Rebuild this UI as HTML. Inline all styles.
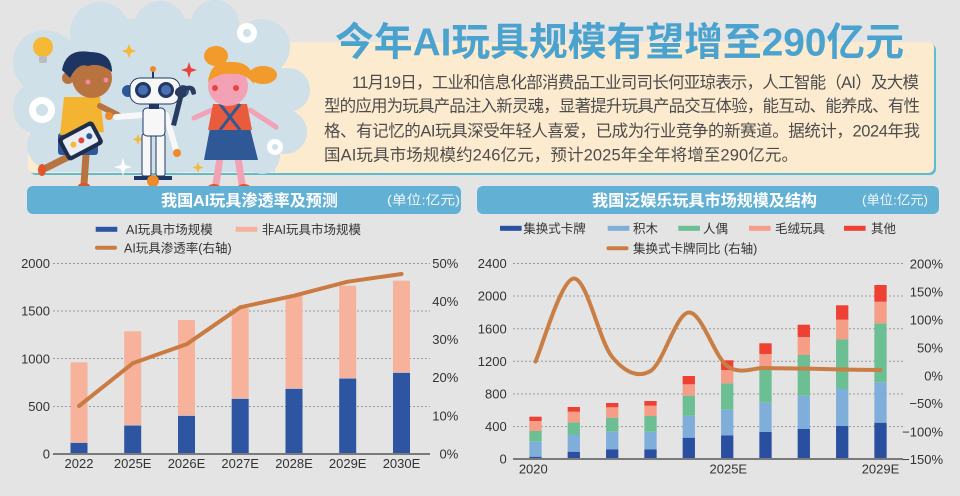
<!DOCTYPE html>
<html><head><meta charset="utf-8">
<style>
html,body{margin:0;padding:0;}
body{width:960px;height:496px;overflow:hidden;background:#e4e4e4;position:relative;font-family:"Liberation Sans","Noto Sans CJK SC",sans-serif;}
.cream{position:absolute;left:28px;top:42px;width:906px;height:131px;background:#fdebd0;border-radius:6px;box-shadow:2px 2px 0 #5dbdd0;}
svg{position:absolute;left:0;top:0;}
</style></head>
<body>
<div class="cream"></div>

<!-- illustration -->
<svg width="320" height="192" viewBox="0 0 320 192">
 <g fill="#cfe0e8">
  <ellipse cx="160" cy="95" rx="130" ry="78"/>
  <circle cx="45" cy="62" r="32"/>
  <circle cx="40" cy="108" r="27"/>
  <circle cx="52" cy="145" r="25"/>
  <circle cx="100" cy="32" r="30"/>
  <circle cx="160" cy="27" r="26"/>
  <circle cx="215" cy="24" r="24"/>
  <circle cx="262" cy="47" r="28"/>
  <circle cx="288" cy="90" r="22"/>
  <circle cx="285" cy="132" r="22"/>
  <circle cx="262" cy="156" r="18"/>
  <rect x="45" y="120" width="230" height="52"/>
 </g>
 <!-- lightbulb -->
 <circle cx="43" cy="47" r="10" fill="#f5b935"/>
 <rect x="39" y="56" width="8" height="7" rx="2" fill="#b9bcc0"/>
 <!-- gears -->
 <circle cx="42" cy="110" r="13" fill="#fff"/><circle cx="42" cy="110" r="6" fill="#cfe0e8"/>
 <circle cx="247" cy="33" r="10" fill="#fff"/><circle cx="247" cy="33" r="4" fill="#cfe0e8"/>
 <circle cx="275" cy="147" r="8" fill="#fff"/><circle cx="275" cy="147" r="3" fill="#cfe0e8"/>
 <!-- sparkles -->
 <path d="M129 44 l2 5 5 2 -5 2 -2 5 -2 -5 -5 -2 5 -2z" fill="#f5b935"/>
 <path d="M189 62 l2 6 6 2 -6 2 -2 6 -2 -6 -6 -2 6 -2z" fill="#e8453a"/>
 <path d="M123 158 l2 7 7 2 -7 2 -2 7 -2 -7 -7 -2 7 -2z" fill="#fff"/>
 <path d="M138 134 l1.5 4 4 1.5 -4 1.5 -1.5 4 -1.5 -4 -4 -1.5 4 -1.5z" fill="#f5b935"/>
 <path d="M198 162 l1.5 4 4 1.5 -4 1.5 -1.5 4 -1.5 -4 -4 -1.5 4 -1.5z" fill="#f5b935"/>
 <!-- boy -->
 <line x1="72" y1="155" x2="46" y2="168" stroke="#b8733f" stroke-width="7" stroke-linecap="round"/>
 <line x1="86" y1="155" x2="84" y2="184" stroke="#b8733f" stroke-width="7" stroke-linecap="round"/>
 <ellipse cx="42" cy="170" rx="4" ry="6" fill="#e2542c"/>
 <ellipse cx="84" cy="186" rx="6" ry="3" fill="#e2542c"/>
 <rect x="58" y="133" width="40" height="22" rx="3" fill="#2e5896"/>
 <path d="M64 97 L100 97 L104 132 L60 135 Z" fill="#f3b431"/>
 <line x1="100" y1="106" x2="118" y2="115" stroke="#b8733f" stroke-width="6" stroke-linecap="round"/>
 <circle cx="92" cy="78" r="20" fill="#b8733f"/>
 <circle cx="68" cy="78" r="6" fill="#b8733f"/>
 <path d="M62 70 Q66 48 90 52 Q112 52 112 72 Q100 62 88 66 Q78 62 70 78 Z" fill="#1e3462"/>
 <circle cx="88" cy="82" r="2.5" fill="#f08aa0"/><circle cx="106" cy="80" r="2.5" fill="#f08aa0"/>
 <g transform="rotate(-28 80 140)">
  <rect x="60" y="128" width="40" height="26" rx="4" fill="#1f2c4a"/>
  <rect x="64" y="132" width="32" height="18" rx="2" fill="#e8eef5"/>
  <circle cx="72" cy="141" r="3" fill="#f5b935"/><circle cx="81" cy="141" r="3" fill="#e8453a"/><circle cx="90" cy="141" r="3" fill="#2e5896"/>
 </g>
 <!-- robot -->
 <rect x="134" y="176" width="38" height="4" fill="#1f3866"/>
 <circle cx="153" cy="181" r="6" fill="#ef8a2a"/>
 <rect x="142" y="134" width="9" height="42" rx="2" fill="#f7f7f7" stroke="#1f3866" stroke-width="1"/>
 <rect x="156" y="134" width="9" height="42" rx="2" fill="#f7f7f7" stroke="#1f3866" stroke-width="1"/>
 <line x1="143" y1="115" x2="116" y2="117" stroke="#f7f7f7" stroke-width="6" stroke-linecap="round"/>
 <circle cx="109" cy="116" r="4" fill="#ef8a2a"/>
 <line x1="166" y1="115" x2="176" y2="150" stroke="#f7f7f7" stroke-width="6" stroke-linecap="round"/>
 <circle cx="177" cy="153" r="4" fill="#ef8a2a"/>
 <rect x="143" y="108" width="22" height="28" rx="4" fill="#f7f7f7" stroke="#1f3866" stroke-width="1"/>
 <rect x="149" y="103" width="10" height="6" fill="#1f3866"/>
 <line x1="153" y1="70" x2="153" y2="78" stroke="#1f3866" stroke-width="2"/>
 <circle cx="153" cy="69" r="3" fill="#ef8a2a"/>
 <circle cx="128" cy="91" r="6" fill="#2e5896"/><circle cx="183" cy="91" r="6" fill="#2e5896"/>
 <rect x="130" y="78" width="50" height="26" rx="10" fill="#f7f7f7" stroke="#1f3866" stroke-width="1"/>
 <circle cx="143" cy="90" r="8" fill="#1f3866"/><circle cx="143" cy="90" r="5" fill="#4a6fb0"/>
 <circle cx="166" cy="90" r="8" fill="#1f3866"/><circle cx="166" cy="90" r="5" fill="#4a6fb0"/>
 <!-- wrench -->
 <path d="M186 86 q10 -2 10 8 l-4 1 -2 -5 -4 1 0 5 -3 2 -7 28 -5 -1 7 -28 -3 -3 q-1 -8 11 -8z" fill="#2a3b60"/>
 <!-- girl -->
 <line x1="220" y1="158" x2="216" y2="184" stroke="#f3a1b4" stroke-width="7" stroke-linecap="round"/>
 <line x1="238" y1="158" x2="242" y2="184" stroke="#f3a1b4" stroke-width="7" stroke-linecap="round"/>
 <ellipse cx="214" cy="187" rx="6" ry="3" fill="#e2542c"/><ellipse cx="244" cy="187" rx="6" ry="3" fill="#e2542c"/>
 <line x1="212" y1="110" x2="194" y2="118" stroke="#f3a1b4" stroke-width="5" stroke-linecap="round"/>
 <line x1="250" y1="110" x2="276" y2="127" stroke="#f3a1b4" stroke-width="5" stroke-linecap="round"/>
 <path d="M210 128 L250 128 L258 160 L204 160 Z" fill="#2e5896"/>
 <path d="M213 104 L247 104 L252 130 L208 130 Z" fill="#e85b3c"/>
 <line x1="220" y1="104" x2="240" y2="130" stroke="#2e5896" stroke-width="3"/>
 <line x1="240" y1="104" x2="220" y2="130" stroke="#2e5896" stroke-width="3"/>
 <ellipse cx="216" cy="56" rx="12" ry="10" fill="#f29a2b"/>
 <ellipse cx="263" cy="75" rx="14" ry="9" fill="#f29a2b"/>
 <circle cx="228" cy="86" r="20" fill="#f3a1b4"/>
 <path d="M208 82 Q210 60 232 62 Q254 62 254 84 Q244 72 232 74 Q220 72 208 82 Z" fill="#f29a2b"/>
 <circle cx="215" cy="88" r="3" fill="#e8453a"/><circle cx="236" cy="88" r="3" fill="#e8453a"/>
</svg>

<!-- title, paragraph and charts -->
<svg width="960" height="496" viewBox="0 0 960 496" font-family="Liberation Sans, Noto Sans CJK SC, sans-serif">
 <text x="335" y="55.6" font-size="39" font-weight="bold" fill="#4aa2cf" textLength="569" lengthAdjust="spacingAndGlyphs">今年AI玩具规模有望增至290亿元</text>
 <g font-size="16.5" fill="#4d4d4d">
  <text x="352" y="88" textLength="567" lengthAdjust="spacing">11月19日，工业和信息化部消费品工业司司长何亚琼表示，人工智能（AI）及大模</text>
  <text x="324" y="111.3" textLength="596" lengthAdjust="spacing">型的应用为玩具产品注入新灵魂，显著提升玩具产品交互体验，能互动、能养成、有性</text>
  <text x="324" y="136.3" textLength="596" lengthAdjust="spacing">格、有记忆的AI玩具深受年轻人喜爱，已成为行业竞争的新赛道。据统计，2024年我</text>
  <text x="324" y="160.3" textLength="474" lengthAdjust="spacing">国AI玩具市场规模约246亿元，预计2025年全年将增至290亿元。</text>
 </g>

 <!-- header bars -->
 <rect x="27" y="186" width="434" height="28" rx="6" fill="#63b0d5"/>
 <rect x="477" y="186" width="462" height="28" rx="6" fill="#63b0d5"/>
 <text x="161" y="206" font-size="16" font-weight="bold" fill="#fff" textLength="177" lengthAdjust="spacingAndGlyphs">我国AI玩具渗透率及预测</text>
 <text x="387" y="204.7" font-size="13" fill="#f2f8fb" textLength="73" lengthAdjust="spacingAndGlyphs">(单位:亿元)</text>
 <text x="592" y="206" font-size="16" font-weight="bold" fill="#fff" textLength="225" lengthAdjust="spacingAndGlyphs">我国泛娱乐玩具市场规模及结构</text>
 <text x="862" y="204.7" font-size="13" fill="#f2f8fb" textLength="66" lengthAdjust="spacingAndGlyphs">(单位:亿元)</text>

 <!-- left legend -->
 <g font-size="12.5" fill="#333">
  <rect x="95.7" y="226.8" width="21.6" height="5" fill="#2d55a2"/>
  <text x="126" y="233.9">AI玩具市场规模</text>
  <rect x="235.7" y="226.8" width="21.6" height="5" fill="#f7b29c"/>
  <text x="261.7" y="233.9">非AI玩具市场规模</text>
  <line x1="97" y1="247.7" x2="115" y2="247.7" stroke="#c97b41" stroke-width="4" stroke-linecap="round"/>
  <text x="124" y="252.3">AI玩具渗透率(右轴)</text>
 </g>

 <!-- right legend -->
 <g font-size="12.5" fill="#333">
  <rect x="500" y="225.8" width="21.6" height="5" fill="#2b4fa0"/>
  <text x="523.3" y="232.9">集换式卡牌</text>
  <rect x="607.7" y="225.8" width="21.6" height="5" fill="#80aedb"/>
  <text x="633" y="232.9">积木</text>
  <rect x="678.3" y="225.8" width="21.6" height="5" fill="#6cbf92"/>
  <text x="703" y="232.9">人偶</text>
  <rect x="749" y="225.8" width="21.6" height="5" fill="#f59d86"/>
  <text x="775" y="232.9">毛绒玩具</text>
  <rect x="844" y="225.8" width="21.6" height="5" fill="#ee4033"/>
  <text x="871" y="232.9">其他</text>
  <line x1="608.5" y1="248.3" x2="626.5" y2="248.3" stroke="#c97e45" stroke-width="4" stroke-linecap="round"/>
  <text x="633" y="252.9">集换式卡牌同比 (右轴)</text>
 </g>

 <!-- LEFT CHART -->
 <g stroke="#9a9a9a" stroke-width="1" stroke-dasharray="2,2">
  <line x1="53" y1="263.5" x2="430" y2="263.5"/>
  <line x1="53" y1="311" x2="430" y2="311"/>
  <line x1="53" y1="358.5" x2="430" y2="358.5"/>
  <line x1="53" y1="406.5" x2="430" y2="406.5"/>
 </g>
 <g fill="#f7b29c">
  <rect x="70.5" y="362.3" width="17" height="80"/>
  <rect x="124.2" y="331.3" width="17" height="93.7"/>
  <rect x="178" y="320" width="17" height="95.3"/>
  <rect x="231.7" y="308.3" width="17" height="90"/>
  <rect x="285.5" y="295.7" width="17" height="92.6"/>
  <rect x="339.2" y="285.7" width="17" height="92.3"/>
  <rect x="393" y="280.7" width="17" height="91.6"/>
 </g>
 <g fill="#2d55a2">
  <rect x="70.5" y="442.8" width="17" height="11.2"/>
  <rect x="124.2" y="425.5" width="17" height="28.5"/>
  <rect x="178" y="415.8" width="17" height="38.2"/>
  <rect x="231.7" y="398.8" width="17" height="55.2"/>
  <rect x="285.5" y="388.8" width="17" height="65.2"/>
  <rect x="339.2" y="378.5" width="17" height="75.5"/>
  <rect x="393" y="372.8" width="17" height="81.2"/>
 </g>
 <line x1="53" y1="454" x2="430" y2="454" stroke="#7a7a7a" stroke-width="2"/>
 <polyline points="79,406 132.7,363.3 186.5,344.3 240.2,307.3 294,295.7 347.7,281.7 401.5,274" fill="none" stroke="#c97b41" stroke-width="4" stroke-linejoin="round" stroke-linecap="round"/>
 <g font-size="13" fill="#333" text-anchor="end">
  <text x="50" y="267.9">2000</text>
  <text x="50" y="315.6">1500</text>
  <text x="50" y="363.3">1000</text>
  <text x="50" y="410.9">500</text>
  <text x="50" y="458.6">0</text>
  <text x="458.3" y="267.9">50%</text>
  <text x="458.3" y="306">40%</text>
  <text x="458.3" y="344.1">30%</text>
  <text x="458.3" y="382.2">20%</text>
  <text x="458.3" y="420.3">10%</text>
  <text x="458.3" y="458.6">0%</text>
 </g>
 <g font-size="13" fill="#333" text-anchor="middle">
  <text x="79" y="467.9">2022</text>
  <text x="132.7" y="467.9">2025E</text>
  <text x="186.5" y="467.9">2026E</text>
  <text x="240.2" y="467.9">2027E</text>
  <text x="294" y="467.9">2028E</text>
  <text x="347.7" y="467.9">2029E</text>
  <text x="401.5" y="467.9">2030E</text>
 </g>

 <!-- RIGHT CHART -->
 <g stroke="#9a9a9a" stroke-width="1" stroke-dasharray="2,2">
  <line x1="513" y1="263.5" x2="903" y2="263.5"/>
  <line x1="513" y1="296" x2="903" y2="296"/>
  <line x1="513" y1="328.7" x2="903" y2="328.7"/>
  <line x1="513" y1="361.3" x2="903" y2="361.3"/>
  <line x1="513" y1="394" x2="903" y2="394"/>
  <line x1="513" y1="426.6" x2="903" y2="426.6"/>
 </g>
 <!-- blue -->
 <g fill="#2b4fa0">
  <rect x="529.35" y="456.7" width="12.3" height="2.3"/>
  <rect x="567.65" y="451.7" width="12.3" height="7.3"/>
  <rect x="606.05" y="449.3" width="12.3" height="9.7"/>
  <rect x="644.35" y="449.3" width="12.3" height="9.7"/>
  <rect x="682.65" y="437.7" width="12.3" height="21.3"/>
  <rect x="721.05" y="435.3" width="12.3" height="23.7"/>
  <rect x="759.35" y="432" width="12.3" height="27"/>
  <rect x="797.65" y="429" width="12.3" height="30"/>
  <rect x="836.05" y="426" width="12.3" height="33"/>
  <rect x="874.35" y="422.7" width="12.3" height="36.3"/>
 </g>
 <!-- light blue -->
 <g fill="#80aedb">
  <rect x="529.35" y="441.7" width="12.3" height="15"/>
  <rect x="567.65" y="435" width="12.3" height="16.7"/>
  <rect x="606.05" y="431.7" width="12.3" height="17.6"/>
  <rect x="644.35" y="431.7" width="12.3" height="17.6"/>
  <rect x="682.65" y="415.7" width="12.3" height="22"/>
  <rect x="721.05" y="409.7" width="12.3" height="25.6"/>
  <rect x="759.35" y="402.7" width="12.3" height="29.3"/>
  <rect x="797.65" y="395.7" width="12.3" height="33.3"/>
  <rect x="836.05" y="389" width="12.3" height="37"/>
  <rect x="874.35" y="382.3" width="12.3" height="40.4"/>
 </g>
 <!-- green -->
 <g fill="#6cbf92">
  <rect x="529.35" y="431" width="12.3" height="10.7"/>
  <rect x="567.65" y="422.3" width="12.3" height="12.7"/>
  <rect x="606.05" y="417.7" width="12.3" height="14"/>
  <rect x="644.35" y="416" width="12.3" height="15.7"/>
  <rect x="682.65" y="395.7" width="12.3" height="20"/>
  <rect x="721.05" y="383.3" width="12.3" height="26.4"/>
  <rect x="759.35" y="368.3" width="12.3" height="34.4"/>
  <rect x="797.65" y="355" width="12.3" height="40.7"/>
  <rect x="836.05" y="339.3" width="12.3" height="49.7"/>
  <rect x="874.35" y="323.3" width="12.3" height="59"/>
 </g>
 <!-- pink -->
 <g fill="#f59d86">
  <rect x="529.35" y="421" width="12.3" height="10"/>
  <rect x="567.65" y="411.7" width="12.3" height="10.6"/>
  <rect x="606.05" y="407.3" width="12.3" height="10.4"/>
  <rect x="644.35" y="405.7" width="12.3" height="10.3"/>
  <rect x="682.65" y="384.3" width="12.3" height="11.4"/>
  <rect x="721.05" y="370" width="12.3" height="13.3"/>
  <rect x="759.35" y="354" width="12.3" height="14.3"/>
  <rect x="797.65" y="337" width="12.3" height="18"/>
  <rect x="836.05" y="319.7" width="12.3" height="19.6"/>
  <rect x="874.35" y="301.7" width="12.3" height="21.6"/>
 </g>
 <!-- red -->
 <g fill="#ee4033">
  <rect x="529.35" y="416.7" width="12.3" height="4.3"/>
  <rect x="567.65" y="407" width="12.3" height="4.7"/>
  <rect x="606.05" y="403" width="12.3" height="4.3"/>
  <rect x="644.35" y="401" width="12.3" height="4.7"/>
  <rect x="682.65" y="376" width="12.3" height="8.3"/>
  <rect x="721.05" y="360.3" width="12.3" height="9.7"/>
  <rect x="759.35" y="343.3" width="12.3" height="10.7"/>
  <rect x="797.65" y="324.7" width="12.3" height="12.3"/>
  <rect x="836.05" y="305.3" width="12.3" height="14.4"/>
  <rect x="874.35" y="285" width="12.3" height="16.7"/>
 </g>
 <line x1="513" y1="459" x2="903" y2="459" stroke="#7a7a7a" stroke-width="2"/>
 <path d="M535.5,361.5 C541.9,347.7 561.0,279.25 573.8,278.5 C586.6,277.75 599.4,341.6 612.2,357 C625.0,372.4 637.7,378.4 650.5,371 C663.3,363.6 676.0,313.3 688.8,312.5 C701.6,311.7 714.4,356.75 727.2,366 C740.0,375.25 752.7,367.6 765.5,368 C778.3,368.4 791.0,368.25 803.8,368.5 C816.6,368.75 829.4,369.25 842.2,369.5 C855.0,369.75 874.1,369.9 880.5,370" fill="none" stroke="#c97e45" stroke-width="4" stroke-linecap="round" stroke-linejoin="round"/>
 <g font-size="13" fill="#333" text-anchor="end">
  <text x="506.7" y="267.9">2400</text>
  <text x="506.7" y="300.6">2000</text>
  <text x="506.7" y="333.3">1600</text>
  <text x="506.7" y="365.9">1200</text>
  <text x="506.7" y="398.6">800</text>
  <text x="506.7" y="431.2">400</text>
  <text x="506.7" y="463.6">0</text>
  <text x="943" y="268.6">200%</text>
  <text x="943" y="296.6">150%</text>
  <text x="943" y="324.6">100%</text>
  <text x="943" y="352.3">50%</text>
  <text x="943" y="380.3">0%</text>
  <text x="943" y="407.9">−50%</text>
  <text x="943" y="436.3">−100%</text>
  <text x="943" y="463.9">−150%</text>
 </g>
 <g font-size="13" fill="#333" text-anchor="middle">
  <text x="533.3" y="473.6">2020</text>
  <text x="728.3" y="473.6">2025E</text>
  <text x="880.5" y="473.6">2029E</text>
 </g>
</svg>
</body></html>
